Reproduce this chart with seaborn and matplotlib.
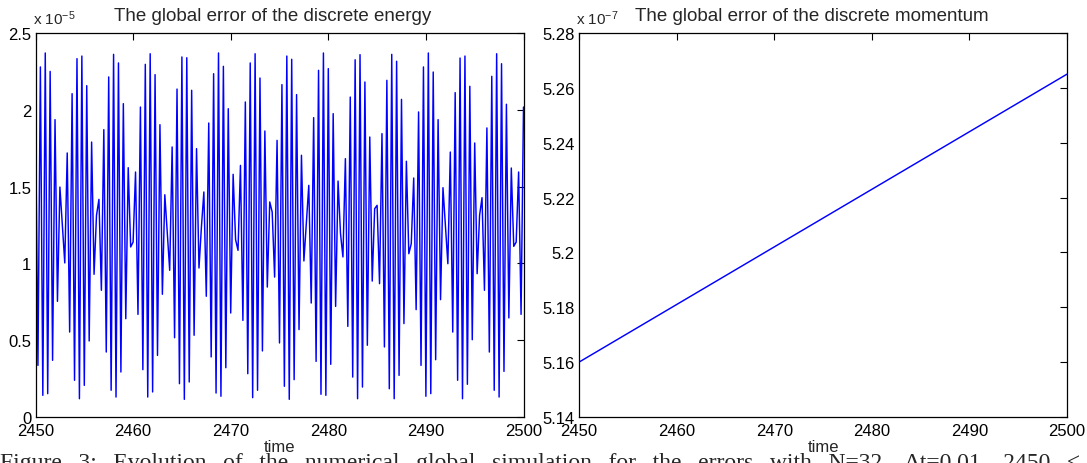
import numpy as np
import pandas as pd
import matplotlib
matplotlib.use("Agg")
import matplotlib.pyplot as plt
import seaborn as sns

# Global error of the discrete energy (units of 1e-5), one sample every 0.25 time units
energy_err = [
    1.986, 0.336, 2.279, 0.141, 2.370, 0.152, 2.250, 0.369, 1.936, 0.753,
    1.497, 1.250, 1.003, 1.719, 0.553, 2.105, 0.239, 2.333, 0.119, 2.350,
    0.206, 2.157, 0.495, 1.790, 0.929, 1.313, 1.417, 0.825, 1.871, 0.423,
    2.214, 0.174, 2.361, 0.130, 2.305, 0.293, 2.040, 0.640, 1.623, 1.107,
    1.139, 1.595, 0.668, 2.018, 0.308, 2.296, 0.130, 2.365, 0.163, 2.229,
    0.401, 1.903, 0.799, 1.447, 1.204, 0.955, 1.758, 0.516, 2.135, 0.217,
    2.344, 0.115, 2.339, 0.228, 2.127, 0.532, 1.747, 0.970, 1.237, 1.465,
    0.786, 1.914, 0.391, 2.235, 0.156, 2.370, 0.135, 2.283, 0.321, 2.007,
    0.677, 1.580, 1.155, 1.085, 1.638, 0.629, 2.051, 0.282, 2.305, 0.126,
    2.365, 0.174, 2.207, 0.430, 1.862, 0.846, 1.400, 1.335, 0.911, 1.801,
    0.482, 2.164, 0.200, 2.350, 0.115, 2.329, 0.243, 2.099, 0.569, 1.704,
    1.016, 1.259, 1.508, 0.742, 1.949, 0.362, 2.257, 0.148, 2.370, 0.141,
    2.268, 0.343, 1.975, 0.720, 1.536, 1.194, 1.042, 1.682, 0.590, 2.083,
    0.260, 2.326, 0.119, 2.359, 0.195, 2.181, 0.467, 1.823, 0.885, 1.356,
    1.378, 0.868, 1.845, 0.456, 2.192, 0.184, 2.361, 0.119, 2.316, 0.271,
    2.068, 0.608, 1.665, 1.063, 1.128, 1.556, 0.699, 1.986, 0.336, 2.279,
    0.135, 2.370, 0.152, 2.246, 0.373, 1.936, 0.764, 1.493, 1.246, 0.998,
    1.725, 0.553, 2.112, 0.239, 2.337, 0.119, 2.350, 0.213, 2.153, 0.503,
    1.784, 0.933, 1.313, 1.428, 0.825, 1.882, 0.423, 2.218, 0.174, 2.365,
    0.130, 2.300, 0.297, 2.036, 0.645, 1.621, 1.111, 1.139, 1.595, 0.668,
    2.018,
]
energy_exp = -5
t_start, t_end = 2450, 2500

# Global error of the discrete momentum (units of 1e-7)
momentum_time = [2450, 2460, 2470, 2480, 2490, 2500]
momentum_err = [5.160, 5.181, 5.202, 5.223, 5.244, 5.265]
momentum_exp = -7

x_ticks = [2450, 2460, 2470, 2480, 2490, 2500]
energy_yticks = [0, 0.5, 1, 1.5, 2, 2.5]
momentum_yticks = [5.14, 5.16, 5.18, 5.20, 5.22, 5.24, 5.26, 5.28]

titles = ["The global error of the discrete energy",
          "The global error of the discrete momentum"]
title_centers = [272.5, 811.5]
x_label = "time"
caption_words = ["Figure", "3:", "Evolution", "of", "the", "numerical", "global",
                 "simulation", "for", "the", "errors", "with", "N=32,",
                 "\u0394t=0.01,", "2450", "\u2264", "t", "\u2264", "2500."]

energy_df = pd.DataFrame({
    "time": np.linspace(t_start, t_end, len(energy_err)),
    "err": energy_err,
})
momentum_df = pd.DataFrame({"time": momentum_time, "err": momentum_err})

sns.set_style("white")
plt.rcParams["font.family"] = ["Liberation Sans", "DejaVu Sans"]
plt.rcParams["mathtext.fontset"] = "custom"
plt.rcParams["mathtext.rm"] = "Liberation Sans"
plt.rcParams["mathtext.default"] = "regular"

W, H = 1087, 464
fig = plt.figure(figsize=(W / 100, H / 100), dpi=100)


def px_box(x0, y0, x1, y1):
    return [x0 / W, 1 - y1 / H, (x1 - x0) / W, (y1 - y0) / H]


ax_top, ax_bot = 34, 418
ax1 = fig.add_axes(px_box(35.5, ax_top, 523.5, ax_bot))
ax2 = fig.add_axes(px_box(579, ax_top, 1067, ax_bot))

sns.lineplot(data=energy_df, x="time", y="err", ax=ax1, color="#0000ff",
             linewidth=1.05, estimator=None)
sns.lineplot(data=momentum_df, x="time", y="err", ax=ax2, color="#0000ff",
             linewidth=1.05, estimator=None)

panels = [
    (ax1, energy_yticks, (0, 2.5), energy_exp, titles[0], title_centers[0]),
    (ax2, momentum_yticks, (5.14, 5.28), momentum_exp, titles[1], title_centers[1]),
]
for ax, yt, ylim, exp, title, tc in panels:
    ax.set_xlim(t_start, t_end)
    ax.set_ylim(*ylim)
    ax.set_xticks(x_ticks)
    ax.set_xticklabels([f"{v:g}" for v in x_ticks])
    ax.set_yticks(yt)
    ax.set_yticklabels([f"{v:g}" for v in yt])
    ax.set_xlabel("")
    ax.set_ylabel("")
    for s in ax.spines.values():
        s.set_visible(True)
        s.set_color("black")
        s.set_linewidth(0.9)
    ax.tick_params(direction="in", top=True, right=True, length=5, width=0.8,
                   labelsize=12, colors="black", pad=4)
    ax.tick_params(axis="y", pad=3)
    x0 = ax.get_position().x0
    x1 = ax.get_position().x1
    fig.text(tc / W, 1 - 21 / H, title, ha="center", va="baseline",
             fontsize=13.5)
    fig.text((x0 + x1) / 2, 1 - 452 / H, x_label, ha="center", va="baseline",
             fontsize=12)
    fig.text(x0 - 2.5 / W, 1 - 25 / H, "x 10$^{%d}$" % exp, ha="left",
             va="baseline", fontsize=11)

# justified caption line: widened inter-word spacing
caption = "\u2002\u2009".join(caption_words)
fig.text(0.0, 1 - 469 / H, caption, ha="left", va="baseline", fontsize=17,
         family=["Liberation Serif", "DejaVu Serif"])

fig.savefig("out.png", dpi=100, facecolor="white")
